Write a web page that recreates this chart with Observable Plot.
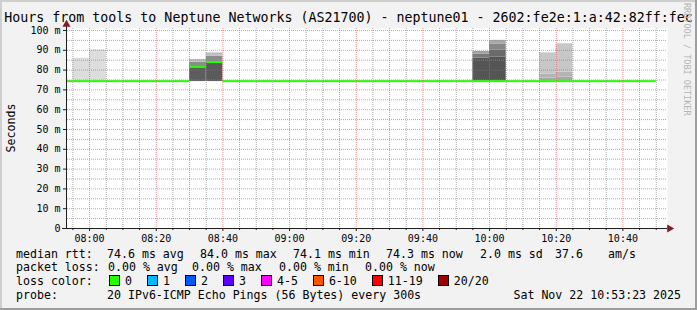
<!DOCTYPE html>
<html><head><meta charset="utf-8">
<script src="https://cdn.jsdelivr.net/npm/d3@7"></script>
<script src="https://cdn.jsdelivr.net/npm/@observablehq/plot@0.6"></script>
<style>
body{margin:0;background:#f2f2f2;}
#chart{position:relative;width:697px;height:310px;background:#f2f2f2;overflow:hidden;font-family:"DejaVu Sans Mono",monospace;color:#000;}
#chart svg{position:absolute;left:0;top:0;}
.abs{position:absolute;white-space:pre;}
.leg{position:absolute;font-size:11.6px;line-height:14px;white-space:pre;}
.sw{display:inline-block;width:9px;height:9px;border:1px solid #000;vertical-align:-1px;margin-right:5px;}
.it{margin-right:15px;}
</style></head><body><div id="chart"></div>
<script>
// ---- data ----
const titleText = "Hours from tools to Neptune Networks (AS21700) - neptune01 - 2602:fe2e:1:a:42:82ff:fec";
const yLabel = "Seconds";
const yTicks = [0,10,20,30,40,50,60,70,80,90,100];
const yTickLabels = ["0","10 m","20 m","30 m","40 m","50 m","60 m","70 m","80 m","90 m","100 m"];
const yMinorTicks = [5,15,25,35,45,55,65,75,85,95];
const xTickLabels = ["08:00","08:20","08:40","09:00","09:20","09:40","10:00","10:20","10:40"];
const timeStart = "07:53:23", timeEnd = "10:53:23";

// smoke layers (5-minute steps): start, low, high, density
const smokeTime = ["07:55","08:00","08:30","08:30","08:30","08:35","08:35","08:35","09:55","09:55","09:55","10:00","10:00","10:00","10:00","10:15","10:15","10:15","10:20","10:20","10:20"];
const smokeLow  = [74.5,74.5,74.2,81.6,84.0,74.2,84.0,87.0,74.5,86.0,88.0,74.5,86.5,90.0,93.0,74.5,76.0,78.0,74.5,76.5,79.0];
const smokeHigh = [86.0,90.2,81.6,84.0,85.4,84.0,87.0,88.7,86.0,88.0,89.4,86.5,90.0,93.0,95.0,76.0,78.0,88.7,76.5,79.0,93.3];
const smokeDensity = [0.02,0.02,0.80,0.51,0.22,0.82,0.51,0.20,0.85,0.62,0.39,0.85,0.72,0.54,0.34,0.34,0.27,0.15,0.34,0.27,0.15];

// median rtt per 5-minute step (ms)
const medianTime = ["07:50","07:55","08:00","08:05","08:10","08:15","08:20","08:25","08:30","08:35","08:40","08:45","08:50","08:55","09:00","09:05","09:10","09:15","09:20","09:25","09:30","09:35","09:40","09:45","09:50","09:55","10:00","10:05","10:10","10:15","10:20","10:25","10:30","10:35","10:40","10:45"];
const medianValue = [74.4,74.4,74.4,74.4,74.4,74.4,74.4,74.4,81.6,84.0,74.4,74.4,74.4,74.4,74.4,74.4,74.4,74.4,74.4,74.4,74.4,74.4,74.4,74.4,74.4,74.4,74.4,74.4,74.4,74.4,74.4,74.4,74.4,74.4,74.4,74.4];

const lossLabels = ["0","1","2","3","4-5","6-10","11-19","20/20"];
const lossColors = ["#26ff00","#00b8ff","#0059ff","#5e00ff","#ff00ff","#ff5500","#ff0000","#a10000"];

const rttItems  = ["median rtt:","74.6 ms avg","84.0 ms max","74.1 ms min","74.3 ms now","2.0 ms sd","37.6","am/s"];
const lossItems = ["packet loss:","0.00 % avg","0.00 % max","0.00 % min","0.00 % now"];
const probeItems = ["probe:","20 IPv6-ICMP Echo Pings (56 Bytes) every 300s"];
const lossKey = "loss color:";
const stamp = "Sat Nov 22 10:53:23 2025";
const watermark = "RRDTOOL / TOBI OETIKER";

// ---- build ----
const T = s => { const p = s.split(":").map(Number); return new Date(Date.UTC(2025,10,22,p[0],p[1],p[2]||0)); };
const x0 = T(timeStart), x1 = T(timeEnd);
const smoke = smokeTime.map((t,i)=>({t0:T(t), t1:d3.utcMinute.offset(T(t),5), lo:smokeLow[i], hi:smokeHigh[i], d:smokeDensity[i]}));
const med = medianTime.map((t,i)=>({t0:T(t), t1:d3.utcMinute.offset(T(t),5), v:medianValue[i]}));
const majorX = xTickLabels.map(T);
const minorX = d3.utcMinute.every(5).range(x0, x1).filter(d => d.getUTCMinutes() % 20 !== 0);
const gridMinor = {stroke:"#8f8f8f", strokeOpacity:0.75, strokeDasharray:"1,1"};
const gridMajor = {stroke:"#de4f4f", strokeOpacity:0.6, strokeDasharray:"1,1"};

const plot = Plot.plot({
  width: 697, height: 250,
  marginLeft: 67, marginRight: 30, marginTop: 28, marginBottom: 22,
  x: {type: "utc", domain: [x0, x1]},
  y: {domain: [0, 101]},
  color: {type: "linear", domain: [0, 1], range: ["#e0e0e0", "#3c3c3c"]},
  style: {background: "transparent", fontFamily: "DejaVu Sans Mono", fontSize: "10px", overflow: "visible", color: "#000"},
  marks: [
    Plot.frame({fill: "#fff", stroke: "none"}),
    Plot.rect(smoke, {x1: "t0", x2: "t1", y1: "lo", y2: "hi", fill: "d"}),
    Plot.ruleY(med, {y: "v", x1: "t0", x2: "t1", stroke: lossColors[0], strokeWidth: 2, clip: true}),
    Plot.gridY(yMinorTicks, gridMinor),
    Plot.gridX(minorX, gridMinor),
    Plot.gridY(yTicks.slice(1), gridMajor),
    Plot.gridX(majorX, gridMajor),
    Plot.axisY(yTicks, {tickFormat: d => yTickLabels[yTicks.indexOf(d)], tickSize: 3, tickPadding: 3, stroke: "#1f1f1f", label: null, dx: -1}),
    Plot.axisX(majorX, {tickFormat: d3.utcFormat("%H:%M"), tickSize: 3, tickPadding: 3, stroke: "#1f1f1f", label: null}),
    Plot.axisX(minorX, {tickFormat: () => "", tickSize: 2, stroke: "#1f1f1f", label: null}),
    Plot.ruleX([x0], {y1: 0, y2: 103, stroke: "#1f1f1f", dx: -1}),
    Plot.ruleY([0], {x1: () => new Date(+x0 - 90000), x2: () => x1, stroke: "#1f1f1f"}),
    Plot.dot([x0], {x: d => d, y: () => 103, symbol: "triangle", r: 3, fill: "#801f1f", stroke: "none", dx: -1}),
    Plot.dot([x1], {x: d => d, y: () => 0, symbol: "triangle", rotate: 90, r: 3, fill: "#801f1f", stroke: "none", dx: 2})
  ]
});

const chart = document.getElementById("chart");
chart.appendChild(plot);

function add(cls, css, text){ const el = document.createElement("div"); el.className = cls; el.style.cssText = css; if (text != null) el.textContent = text; chart.appendChild(el); return el; }

add("abs", "left:0;top:10px;width:697px;text-align:center;font-size:13.3px;line-height:16px;", titleText);
add("abs", "left:11px;top:128px;font-size:11.6px;line-height:14px;transform:translate(-50%,-50%) rotate(-90deg);", yLabel);
add("abs", "left:682px;top:3px;font-size:8.5px;color:#b4b4b4;writing-mode:vertical-rl;", watermark);

const rttX = [16,107,200,293,386,480,555,608];
rttItems.forEach((s,i)=>add("leg", `top:247px;left:${rttX[i]}px;`, s));
const lossX = [16,108,192,279,365];
lossItems.forEach((s,i)=>add("leg", `top:260px;left:${lossX[i]}px;`, s));
add("leg", "top:274px;left:16px;", lossKey);
const lc = add("leg", "top:274px;left:109px;", null);
lossLabels.forEach((l,i)=>{
  const it = document.createElement("span"); it.className = "it";
  const sw = document.createElement("span"); sw.className = "sw"; sw.style.background = lossColors[i];
  it.appendChild(sw); it.appendChild(document.createTextNode(l)); lc.appendChild(it);
});
add("leg", "top:288px;left:16px;", probeItems[0]);
add("leg", "top:288px;left:107px;", probeItems[1]);
add("leg", "top:288px;right:16px;", stamp);

// 3D border (shade A top/left, shade B bottom/right)
add("abs", "left:0;top:0;width:697px;height:2px;background:#cfcfcf;");
add("abs", "left:0;top:0;width:2px;height:310px;background:#cfcfcf;");
add("abs", "left:0;top:308px;width:697px;height:2px;background:#9e9e9e;");
add("abs", "left:695px;top:0;width:2px;height:310px;background:#9e9e9e;");
</script></body></html>
